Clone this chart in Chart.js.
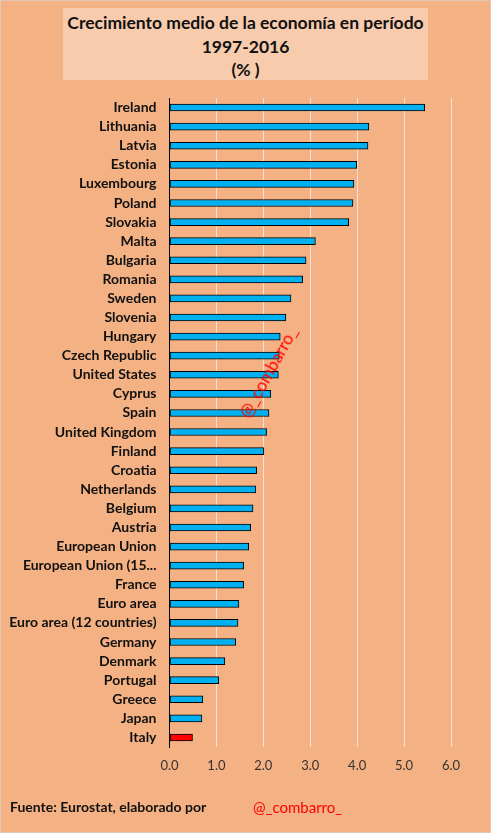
<!DOCTYPE html>
<html>
<head>
<meta charset="utf-8">
<script src="https://cdn.jsdelivr.net/npm/chart.js@4/dist/chart.umd.min.js"></script>
<style>
  html, body { margin: 0; padding: 0; }
  body { width: 491px; height: 833px; background: #F4B183; position: relative; overflow: hidden; font-family: Lato, "Open Sans", sans-serif; }
  .frame { position: absolute; left: 0; top: 0; width: 489px; height: 831px; border: 1px solid #E2C7B3; }
  #wrap { position: absolute; left: 0; top: 0; width: 491px; height: 833px; }
  .title { position: absolute; left: 63px; top: 8px; width: 365px; height: 72px; background: #F8CBAD;
           text-align: center; font-weight: bold; font-size: 17.5px; line-height: 23.5px; color: #111; padding-top: 3px; box-sizing: border-box; }
  .foot { position: absolute; top: 798px; font-size: 14px; }
  .mark { position: absolute; left: 268px; top: 372px; color: #FF0000; font-size: 17px;
          transform: translate(-50%, -50%) rotate(-61deg); white-space: nowrap; }
</style>
</head>
<body>
<div class="frame"></div>
<div class="title">Crecimiento medio de la economía en período<br>1997-2016<br>(% )</div>
<div id="wrap"><canvas id="growthChart" width="491" height="833"></canvas></div>
<div class="mark">@_combarro_</div>
<div class="foot" style="left:10px; font-weight:bold; color:#111;">Fuente: Eurostat, elaborado por</div>
<div class="foot" style="left:253px; color:#FF0000; font-size:15px;">@_combarro_</div>

<script>
// datos
const COUNTRIES = ["Ireland", "Lithuania", "Latvia", "Estonia", "Luxembourg", "Poland", "Slovakia", "Malta",
  "Bulgaria", "Romania", "Sweden", "Slovenia", "Hungary", "Czech Republic", "United States", "Cyprus", "Spain",
  "United Kingdom", "Finland", "Croatia", "Netherlands", "Belgium", "Austria", "European Union",
  "European Union (15...", "France", "Euro area", "Euro area (12 countries)", "Germany", "Denmark",
  "Portugal", "Greece", "Japan", "Italy"];
const GROWTH = [5.44, 4.25, 4.23, 3.99, 3.93, 3.91, 3.82, 3.11,
  2.91, 2.84, 2.59, 2.48, 2.36, 2.34, 2.32, 2.16, 2.12,
  2.07, 2.01, 1.86, 1.84, 1.78, 1.73, 1.69,
  1.58, 1.58, 1.48, 1.46, 1.41, 1.18,
  1.05, 0.71, 0.69, 0.49];
const HIGHLIGHT = "Italy";
const X_TICKS = [0, 1, 2, 3, 4, 5, 6];

const barColors = COUNTRIES.map(c => c === HIGHLIGHT ? "#FF0000" : "#00B0F0");

const ctx = document.getElementById("growthChart").getContext("2d");
new Chart(ctx, {
  type: "bar",
  data: {
    labels: COUNTRIES,
    datasets: [{
      data: GROWTH,
      backgroundColor: barColors,
      borderColor: "#000",
      borderWidth: 1,
      barThickness: 7,
      borderSkipped: false
    }]
  },
  options: {
    indexAxis: "y",
    responsive: false,
    animation: false,
    layout: { padding: { left: 0, right: 40, top: 98, bottom: 56 } },
    plugins: { legend: { display: false }, tooltip: { enabled: false } },
    scales: {
      x: {
        min: 0,
        max: 6,
        afterBuildTicks: scale => { scale.ticks = X_TICKS.map(v => ({ value: v })); },
        afterFit: scale => { scale.height = 30; },
        grid: { color: "#F6E2D4", lineWidth: 1, drawTicks: false },
        border: { display: false },
        ticks: {
          padding: 11,
          color: "#333",
          font: { family: "Lato", size: 13 },
          callback: v => Number(v).toFixed(1)
        }
      },
      y: {
        afterFit: scale => { scale.width = 169.5; },
        grid: { display: false, drawTicks: false },
        border: { display: true, color: "#000", width: 1 },
        ticks: {
          padding: 13,
          color: "#111",
          autoSkip: false,
          font: { family: "Lato", size: 14, weight: "bold" }
        }
      }
    }
  }
});
</script>
</body>
</html>
